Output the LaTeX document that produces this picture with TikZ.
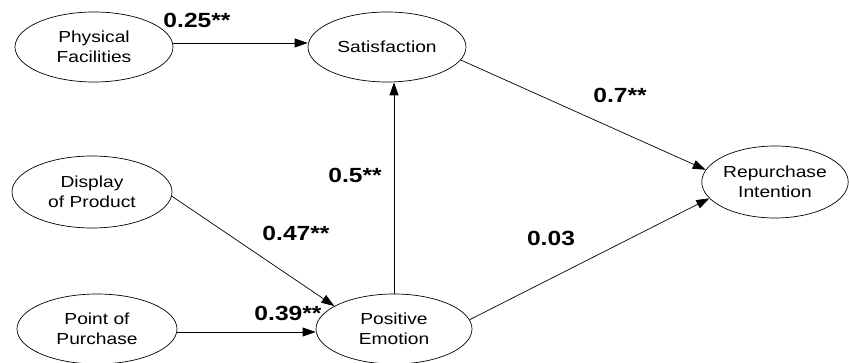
\documentclass[tikz,border=0pt]{standalone}
\usepackage{fontspec}
\newfontfamily\arialx{Liberation Sans}[FakeStretch=1.2]
\usetikzlibrary{shapes.geometric,arrows.meta}
\tikzset{
  var/.style={draw, ellipse, line width=0.7pt, inner sep=0pt, align=center,
    font=\arialx\fontsize{16}{20}\selectfont},
  arr/.style={line width=0.7pt, -{Triangle[length=13pt,width=9pt]}},
  coef/.style={font=\arialx\bfseries\fontsize{20.5}{24}\selectfont, inner sep=0pt}
}
\begin{document}
\begin{tikzpicture}[x=1pt,y=-1pt]
\useasboundingbox (0,0) rectangle (849,363);
\node[var, minimum width=158pt, minimum height=70pt] (PF) at (94,47) {Physical\\Facilities};
\node[var, minimum width=158pt, minimum height=70pt] (Sat) at (387,47) {Satisfaction};
\node[var, minimum width=146pt, minimum height=72pt] (RI) at (775,182) {Repurchase\\Intention};
\node[var, minimum width=160pt, minimum height=72pt] (DP) at (92,192) {Display\\of Product};
\node[var, minimum width=160pt, minimum height=70pt] (PP) at (97,329) {Point of\\Purchase};
\node[var, minimum width=156pt, minimum height=70pt] (PE) at (394,329) {Positive\\Emotion};

\draw[arr] ([yshift=4pt]PF.east) -- ([yshift=4pt]Sat.west);
\draw[arr] (Sat.-10) -- (RI.170);
\draw[arr] (PE.north) -- (PE.north |- Sat.south);
\draw[arr] (DP.-3) -- (PE.159);
\draw[arr] ([yshift=-3pt]PP.east) -- ([yshift=-3pt]PE.west);
\draw[arr] (PE.7) -- (RI.194);

\node[coef] (c1) at (197,20) {0.25**};
\node[coef] (c2) at (620,95) {0.7**};
\node[coef] (c3) at (355,175) {0.5**};
\node[coef] (c4) at (296,233) {0.47**};
\node[coef] (c5) at (288,313) {0.39**};
\node[coef] (c6) at (551,238) {0.03};
\end{tikzpicture}
\end{document}
